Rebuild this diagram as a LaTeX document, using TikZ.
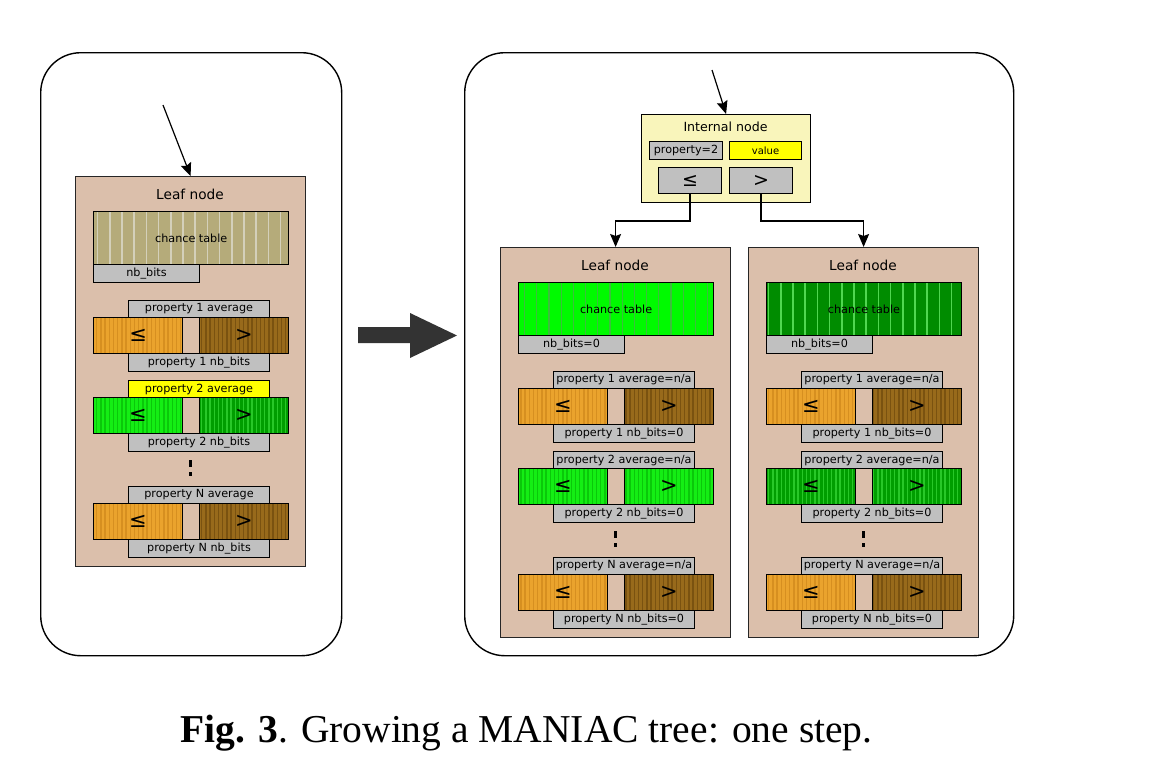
\documentclass[tikz,border=0pt]{standalone}
\usepackage{fontspec}
\setmainfont{DejaVu Sans}
\newfontfamily\capfont{Liberation Serif}
\usetikzlibrary{arrows.meta,patterns.meta}

\definecolor{leafbg}{RGB}{219,191,171}
\definecolor{innerbg}{RGB}{249,245,187}
\definecolor{boxgray}{RGB}{192,192,192}
\definecolor{avgyellow}{RGB}{255,255,0}
\definecolor{olivec}{RGB}{181,171,122}
\definecolor{olivel}{RGB}{212,208,186}
\definecolor{greenc}{RGB}{0,250,0}
\definecolor{greenl}{RGB}{60,190,60}
\definecolor{darkc}{RGB}{0,140,0}
\definecolor{darkl}{RGB}{80,215,80}
\definecolor{orangec}{RGB}{234,163,45}
\definecolor{orangel}{RGB}{214,143,32}
\definecolor{brownc}{RGB}{152,106,27}
\definecolor{brownl}{RGB}{122,82,16}
\definecolor{pgreenc}{RGB}{20,238,20}
\definecolor{pgreenl}{RGB}{10,200,10}
\definecolor{pdarkc}{RGB}{0,158,0}
\definecolor{pdarkl}{RGB}{40,200,40}
\definecolor{arrowgray}{RGB}{51,51,51}

\newcommand{\titlefont}{\fontsize{13.7}{16}\selectfont}
\newcommand{\innerfont}{\fontsize{12.6}{15}\selectfont}
\newcommand{\lblfont}{\fontsize{11.2}{13}\selectfont}
\newcommand{\valfont}{\fontsize{10}{12}\selectfont}
\newcommand{\symfont}{\fontsize{21}{24}\selectfont}
\newcommand{\isymfont}{\fontsize{19}{22}\selectfont}

% #1 origin, #2 name, #3 table style, #4/#5 property 2 styles, #6 property 2 average fill, #7/#8 suffixes
\newcommand{\leafbox}[8]{%
  \begin{scope}[shift={#1}]
    \node (#2) at (0,0) [box, fill=leafbg, draw=black!85, line width=1.2pt, minimum width=230, minimum height=390] {};
    \node (#2title) at (115,18) [font=\titlefont] {Leaf node};
    \node (#2table) at (18,35) [box, #3, minimum width=195, minimum height=53] {chance table};
    \node (#2bits) at (18,88) [box, fill=boxgray, minimum width=106, minimum height=18] {nb\_bits#7};
    \foreach \k/\yy/\lst/\gst/\af in {1/124/orbox/brbox/boxgray, 2/204/#4/#5/#6, N/310/orbox/brbox/boxgray} {
      \node (#2avg\k) at (53,\yy) [box, fill=\af, minimum width=141, minimum height=17] {property \k\ average#8};
      \node (#2le\k) at (18,\yy+17) [box, \lst, minimum width=89, minimum height=36, font=\symfont] {≤};
      \node (#2gt\k) at (124,\yy+17) [box, \gst, minimum width=89, minimum height=36, font=\symfont] {>};
      \node (#2bits\k) at (53,\yy+53) [box, fill=boxgray, minimum width=141, minimum height=18] {property \k\ nb\_bits#7};
    }
    \fill (114,284) rectangle (116.5,291);
    \fill (114,296) rectangle (116.5,300);
  \end{scope}}

\begin{document}
\begin{tikzpicture}[x=1pt, y=-1pt, >={Stealth[length=13pt, width=11pt, inset=2pt]},
    box/.style={draw, anchor=north west, inner sep=0, line width=1pt, font=\lblfont},
    panel/.style={draw, anchor=north west, line width=1.4pt, rounded corners=40pt},
    tabolive/.style={preaction={fill=olivec}, pattern={Lines[angle=90, distance=12.2pt, line width=1.5pt]}, pattern color=olivel},
    tabgreen/.style={preaction={fill=greenc}, pattern={Lines[angle=90, distance=12.2pt, line width=1.2pt]}, pattern color=greenl},
    tabdark/.style={preaction={fill=darkc}, pattern={Lines[angle=90, distance=12.2pt, line width=1.5pt]}, pattern color=darkl},
    orbox/.style={preaction={fill=orangec}, pattern={Lines[angle=90, distance=4.2pt, line width=1.4pt]}, pattern color=orangel},
    brbox/.style={preaction={fill=brownc}, pattern={Lines[angle=90, distance=4.2pt, line width=1.4pt]}, pattern color=brownl},
    grbox/.style={preaction={fill=pgreenc}, pattern={Lines[angle=90, distance=4.2pt, line width=1.4pt]}, pattern color=pgreenl},
    dkbox/.style={preaction={fill=pdarkc}, pattern={Lines[angle=90, distance=4.2pt, line width=1.4pt]}, pattern color=pdarkl}]
    \useasboundingbox (0,0) rectangle (1154,764);

    % left: a single leaf
    \node (lpanel) at (40,52) [panel, minimum width=301, minimum height=603] {};
    \leafbox{(75,176)}{leafl}{tabolive}{grbox}{dkbox}{avgyellow}{}{}
    \coordinate (lroot) at (163,105);
    \draw [->, line width=1.2pt] (lroot) -- (leafl.north);

    \fill [arrowgray] (358,327) -- (410,327) -- (410,313) -- (457,335.5) -- (410,358) -- (410,343) -- (358,343) -- cycle;

    % right: the leaf split into an internal node and two leaves
    \node (rpanel) at (464,52) [panel, minimum width=549, minimum height=603] {};
    \node (inner) at (641,114) [box, fill=innerbg, line width=1.2pt, minimum width=169, minimum height=88] {};
    \node (innertitle) at (725.5,127) [font=\innerfont] {Internal node};
    \node (prop) at (649,141) [box, fill=boxgray, minimum width=73, minimum height=18] {property=2};
    \node (val) at (729,141) [box, fill=avgyellow, minimum width=72, minimum height=18, font=\valfont] {value};
    \node (inle) at (658,167) [box, fill=boxgray, minimum width=63, minimum height=26, font=\isymfont] {≤};
    \node (ingt) at (729,167) [box, fill=boxgray, minimum width=63, minimum height=26, font=\isymfont] {>};
    \coordinate (rroot) at (712,70);
    \draw [->, line width=1.2pt] (rroot) -- (inner.north);

    \leafbox{(500,247)}{leafm}{tabgreen}{grbox}{grbox}{boxgray}{=0}{=n/a}
    \leafbox{(748,247)}{leafr}{tabdark}{dkbox}{dkbox}{boxgray}{=0}{=n/a}

    \draw [->, line width=1.2pt] (inle.south) -- ++(0,27) -| (leafm.north);
    \draw [->, line width=1.2pt] (ingt.south) -- ++(0,27) -| (leafr.north);

    \node (cap) at (526.5,742) [anchor=base, font=\capfont\fontsize{39.5}{46}\selectfont] {\textbf{Fig. 3}. Growing a MANIAC tree: one step.};
\end{tikzpicture}
\end{document}
